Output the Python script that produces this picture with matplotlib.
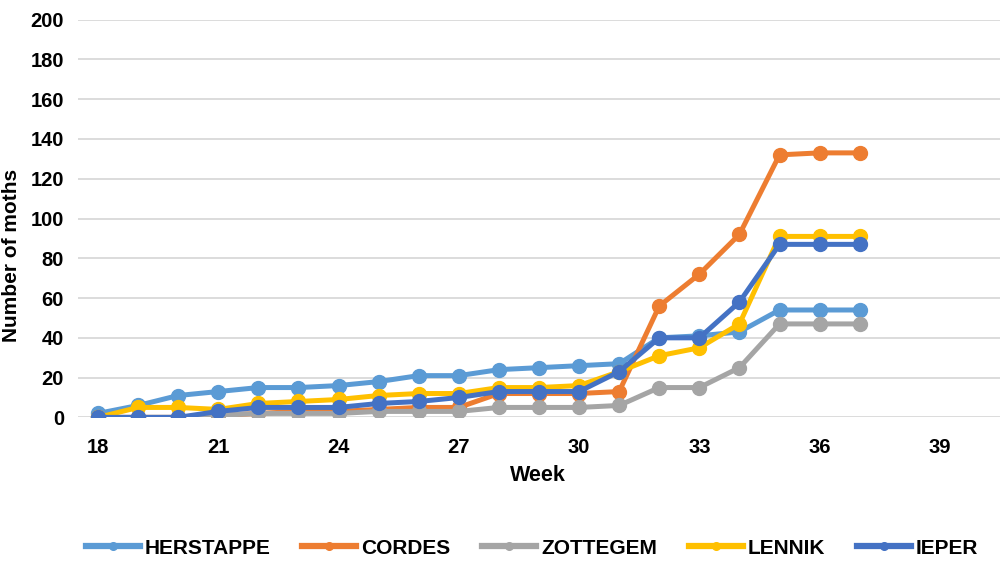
import numpy as np
import matplotlib
matplotlib.use("Agg")
import matplotlib.pyplot as plt

plt.rcParams['font.family'] = ['Liberation Sans', 'DejaVu Sans']

weeks = list(range(18, 38))
herstappe = [2, 6, 11, 13, 15, 15, 16, 18, 21, 21, 24, 25, 26, 27, 40, 41, 43, 54, 54, 54]
cordes = [0, 0, 0, 1, 2, 3, 3, 4, 5, 5, 12, 12, 12, 13, 56, 72, 92, 132, 133, 133]
zottegem = [0, 0, 0, 1, 2, 2, 2, 3, 3, 3, 5, 5, 5, 6, 15, 15, 25, 47, 47, 47]
lennik = [0, 5, 5, 4, 7, 8, 9, 11, 12, 12, 15, 15, 16, 23, 31, 35, 47, 91, 91, 91]
ieper = [0, 0, 0, 3, 5, 5, 5, 7, 8, 10, 13, 13, 13, 23, 40, 40, 58, 87, 87, 87]

series = [("HERSTAPPE", herstappe, "#5B9BD5"),
          ("CORDES", cordes, "#ED7D31"),
          ("ZOTTEGEM", zottegem, "#A5A5A5"),
          ("LENNIK", lennik, "#FFC000"),
          ("IEPER", ieper, "#4472C4")]

fig = plt.figure(figsize=(10, 5.61), dpi=100)
ax = fig.add_axes([0.078, 0.256, 0.922, 0.709])

for name, vals, col in series:
    ax.plot(weeks, vals, color=col, lw=3.6, marker='o', ms=10, label=name)

ax.set_xlim(17.5, 40.5)
ax.set_ylim(0, 200)
ax.set_xticks(range(18, 40, 3))
ax.set_yticks(range(0, 201, 20))
ax.yaxis.grid(True, color='#D9D9D9', lw=1.3)
ax.set_axisbelow(True)
for s in ax.spines.values():
    s.set_visible(False)
ax.tick_params(length=0, labelsize=14.5)
ax.tick_params(axis='y', pad=10)
ax.tick_params(axis='x', pad=15)
for lab in ax.get_xticklabels() + ax.get_yticklabels():
    lab.set_fontweight('bold')
ax.set_xlabel("Week", fontsize=15.5, fontweight='bold', va='center')
ax.xaxis.set_label_coords(0.499, -0.147)
ax.set_ylabel("Number of moths", fontsize=15, fontweight='bold', va='center')
ax.yaxis.set_label_coords(-0.072, 0.406)

leg = fig.legend(loc='center', bbox_to_anchor=(0.532, 0.023), ncol=5, frameon=False,
                 prop={'weight': 'bold', 'size': 15}, handlelength=2.6,
                 columnspacing=1.5, handletextpad=0.25, markerscale=0.55)
for h in leg.get_lines():
    h.set_linewidth(4.5)

fig.savefig("out.png", dpi=100)
